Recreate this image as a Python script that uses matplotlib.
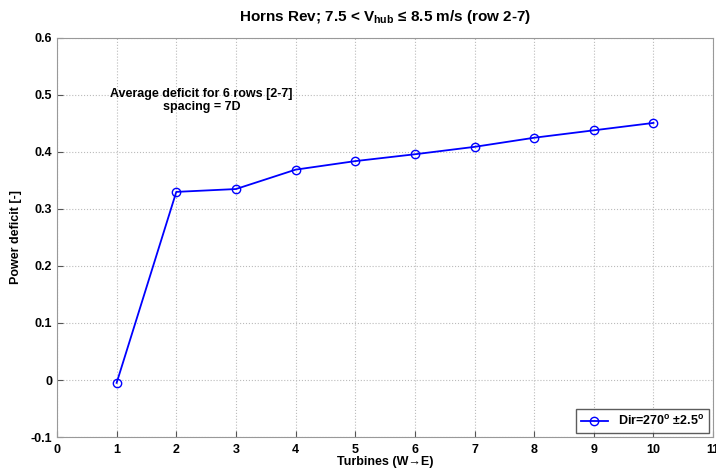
import matplotlib
matplotlib.use("Agg")
import matplotlib.pyplot as plt

plt.rcParams['font.family'] = ['Liberation Sans', 'DejaVu Sans']
plt.rcParams['font.weight'] = 'bold'
plt.rcParams['mathtext.fontset'] = 'custom'
plt.rcParams['mathtext.rm'] = 'Liberation Sans:bold'
plt.rcParams['mathtext.bf'] = 'Liberation Sans:bold'
plt.rcParams['mathtext.it'] = 'Liberation Sans:bold'

# turbine number and average power deficit (rows 2-7)
turbines = [1, 2, 3, 4, 5, 6, 7, 8, 9, 10]
deficit = [-0.005, 0.330, 0.335, 0.369, 0.384, 0.396, 0.409, 0.425, 0.438, 0.451]

xticks = list(range(0, 12))
yticks = [-0.1, 0, 0.1, 0.2, 0.3, 0.4, 0.5, 0.6]
ytick_labels = ['-0.1', '0', '0.1', '0.2', '0.3', '0.4', '0.5', '0.6']


def main():
    fig = plt.figure(figsize=(7.16, 4.70), dpi=100)
    ax = fig.add_axes([0.0796, 0.0702, 0.9164, 0.849])

    ax.plot(turbines, deficit, color='#0000ff', marker='o', markersize=6,
            markerfacecolor='none', markeredgecolor='#0000ff', linewidth=1.3,
            label='Dir=270$^{\\mathrm{o}}$ \u00b12.5$^{\\mathrm{o}}$')

    ax.set_xlim(0, 11)
    ax.set_ylim(-0.1, 0.6)
    ax.set_xticks(xticks)
    ax.set_yticks(yticks)
    ax.set_yticklabels(ytick_labels)
    ax.tick_params(labelsize=9, direction='in', length=4, color='#555555')
    ax.tick_params(axis='x', pad=5)
    for lab in ax.get_xticklabels() + ax.get_yticklabels():
        lab.set_fontweight('bold')

    ax.grid(True, linestyle=':', color='#bbbbbb', linewidth=0.8)
    for s in ax.spines.values():
        s.set_color('#999999')

    ax.set_xlabel('Turbines (W\u2192E)', fontsize=9, fontweight='bold', labelpad=0)
    ax.set_ylabel('Power deficit [-]', fontsize=9, fontweight='bold', labelpad=6)
    ax.set_title('Horns Rev; 7.5 < V$_{\\mathrm{hub}}$ \u2264 8.5 m/s (row 2-7)',
                 fontsize=11, fontweight='bold', pad=12)

    ax.text(2.42, 0.49, 'Average deficit for 6 rows [2-7]\nspacing = 7D',
            ha='center', va='center', fontsize=9, fontweight='bold',
            linespacing=1.1)

    leg = ax.legend(loc='lower right', fontsize=9, frameon=True, fancybox=False,
                    borderaxespad=0.3, handlelength=2.2)
    leg.get_frame().set_edgecolor('#333333')
    for t in leg.get_texts():
        t.set_fontweight('bold')

    fig.savefig('out.png', dpi=100)


if __name__ == "__main__":
    main()
